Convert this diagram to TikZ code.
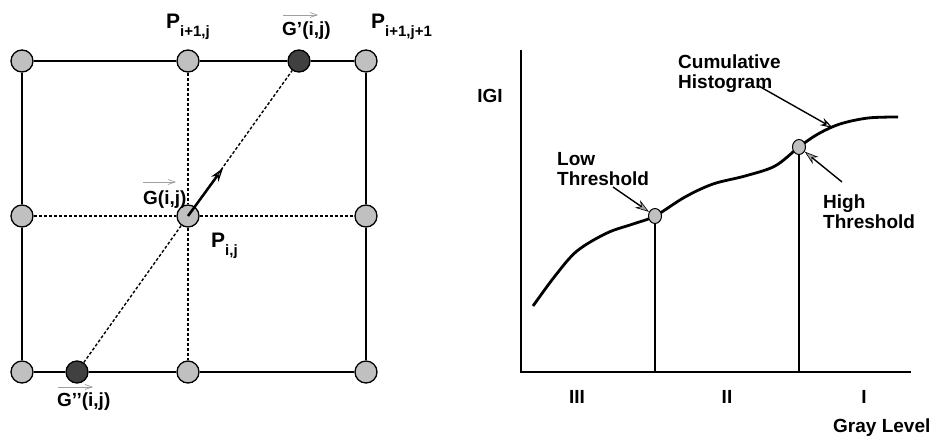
\documentclass[tikz,border=0pt]{standalone}
\usepackage{fontspec}
\setmainfont{Liberation Sans}
\usetikzlibrary{arrows.meta,shapes.geometric}
\definecolor{lgray}{RGB}{192,192,192}
\definecolor{dgray}{RGB}{64,64,64}
\definecolor{agray}{RGB}{160,160,160}
\tikzset{
  gdot/.style={circle, draw=black, line width=1.3pt, fill=lgray, minimum size=22pt, inner sep=0pt},
  ddot/.style={gdot, fill=dgray},
  solidline/.style={line width=1.7pt},
  dotline/.style={line width=1.4pt, dash pattern=on 3pt off 2pt},
  lbl/.style={font=\fontsize{19}{20}\selectfont\bfseries, inner sep=0pt},
  plbl/.style={font=\fontsize{21}{22}\selectfont\bfseries, inner sep=0pt, anchor=base west},
  vecbar/.style={draw=agray, line width=0.7pt, -{Straight Barb[length=7pt,width=5pt]}},
  thr/.style={ellipse, draw=black, line width=1pt, fill=lgray, minimum width=13pt, minimum height=15pt, inner sep=0pt},
  grayarrow/.style={line width=1.4pt, -{Stealth[length=14pt,width=9pt,fill=agray,color=black,line width=0.6pt]}},
  blackarrow/.style={line width=1.4pt, -{Stealth[open,length=13pt,width=8pt,line width=1.1pt]}},
  curve/.style={line width=2.8pt},
  axis/.style={line width=1.7pt}
}
\newcommand{\subs}[2]{#1\raisebox{-8pt}{\fontsize{15}{16}\selectfont #2}}
\begin{document}
\begin{tikzpicture}[x=1pt,y=-1pt]
\useasboundingbox (0,0) rectangle (932,437);
% ---------- left grid ----------
\node[gdot] (n00) at (22,61) {};
\node[gdot] (n01) at (188,61) {};
\node[ddot] (gp)  at (299,61) {};
\node[gdot] (n02) at (366,61) {};
\node[gdot] (n10) at (22,216) {};
\node[gdot] (n11) at (188,216) {};
\node[gdot] (n12) at (366,216) {};
\node[gdot] (n20) at (22,372) {};
\node[ddot] (gpp) at (77,372) {};
\node[gdot] (n21) at (188,372) {};
\node[gdot] (n22) at (366,372) {};
\draw[solidline] (n00) -- (n01) -- (gp) -- (n02);
\draw[solidline] (n00) -- (n10) -- (n20);
\draw[solidline] (n02) -- (n12) -- (n22);
\draw[solidline] (n20) -- (gpp) -- (n21) -- (n22);
\draw[dotline] (n10) -- (n11) -- (n12);
\draw[dotline] (n01) -- (n11) -- (n21);
\draw[dotline] (gpp) -- (n11);
\draw[dotline] (n11) -- (gp);
\coordinate (gtip) at (223,168);
\draw[line width=2.5pt, -{Stealth[open,length=14pt,width=9pt,line width=1.3pt]}] (n11.center) -- (gtip);
% labels
\node[plbl] (lp1) at (166,28) {\subs{P}{i+1,j}};
\node[plbl] (lp2) at (371,28) {\subs{P}{i+1,j+1}};
\node[plbl] (lp0) at (211,247) {\subs{P}{i,j}};
\node[lbl, anchor=base west] (lgp) at (282,35) {G’(i,j)};
\node[lbl, anchor=base west] (lg) at (143,204) {G(i,j)};
\node[lbl, anchor=base west] (lgpp) at (57,406) {G’’(i,j)};
\coordinate (va1) at (283,15); \coordinate (vb1) at (318,15);
\coordinate (va2) at (143,182); \coordinate (vb2) at (176,182);
\coordinate (va3) at (58,387); \coordinate (vb3) at (93,387);
\draw[vecbar] (va1) -- (vb1);
\draw[vecbar] (va2) -- (vb2);
\draw[vecbar] (va3) -- (vb3);
% ---------- right chart ----------
\coordinate (org) at (521,372);
\coordinate (ytop) at (521,50);
\coordinate (xend) at (911,372);
\coordinate (lowb) at (655,372);
\coordinate (highb) at (799,372);
\draw[axis] (ytop) -- (org) -- (xend);
\draw[curve] plot[smooth, tension=0.55] coordinates {(533,306) (555,276) (577,251) (607,233) (633,224) (655,216) (685,197) (713,184) (745,176) (775,166) (799,147) (818,134) (840,124) (868,118) (898,117)};
\node[thr] (low) at (655,216) {};
\node[thr] (high) at (799,147) {};
\draw[axis] (low) -- (lowb);
\draw[axis] (high) -- (highb);
\node[lbl] (gl) at (490,96) {IGI};
\node[lbl, anchor=north west, align=left] (cum) at (678,55) {Cumulative\\Histogram};
\node[lbl, anchor=north west, align=left] (lowt) at (557,152) {Low\\Threshold};
\node[lbl, anchor=north west, align=left] (hight) at (823,195) {High\\Threshold};
\coordinate (ca) at (757,85); \coordinate (cb) at (833,128);
\draw[blackarrow] (ca) -- (cb);
\coordinate (la) at (613,187);
\draw[grayarrow] (la) -- (low);
\coordinate (ha) at (842,182);
\draw[grayarrow] (ha) -- (high);
\node[lbl] (r3) at (577,397) {III};
\node[lbl] (r2) at (727,397) {II};
\node[lbl] (r1) at (864,397) {I};
\node[lbl, anchor=north west] (gray) at (833,419) {Gray Level};
\end{tikzpicture}
\end{document}
